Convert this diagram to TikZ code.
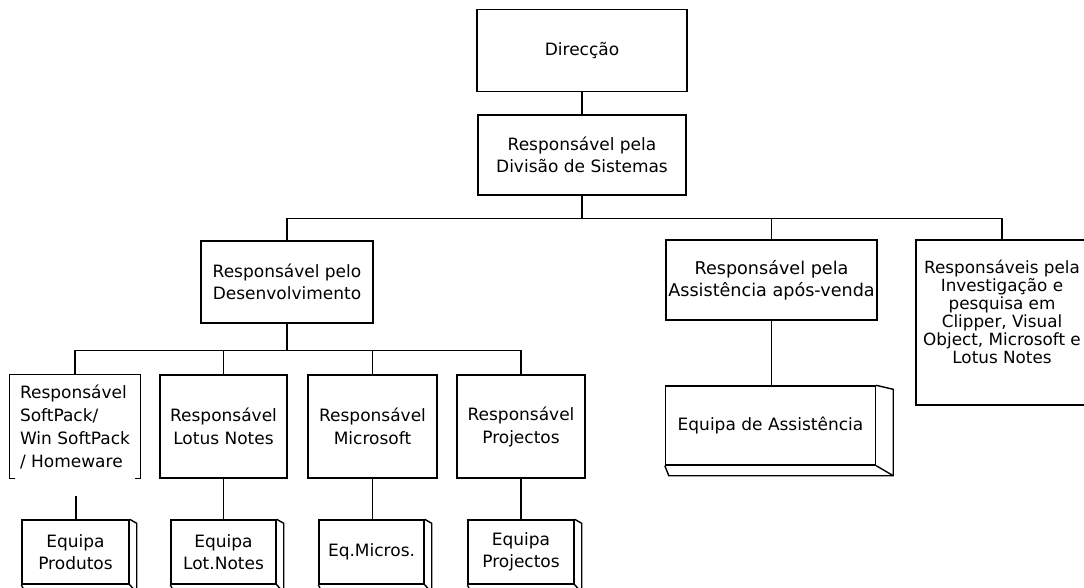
\documentclass[tikz,border=0pt]{standalone}
\usepackage{fontspec}
\setmainfont{DejaVu Sans}

\begin{document}
\begin{tikzpicture}[x=1pt, y=-1pt, line width=1.4pt,
  every node/.style={draw, align=center, inner sep=0pt, font=\fontsize{17}{22}\selectfont},
  chefe/.style={minimum width=#1, minimum height=82pt},
  resp/.style={minimum width=#1, minimum height=103pt, font=\fontsize{17}{23}\selectfont},
  equipa/.style={minimum width=#1, minimum height=64pt}]
  \useasboundingbox (0,0) rectangle (1084,587);
  \clip (0,0) rectangle (1084,587);

  % topo
  \node[chefe=210pt] (dir) at (582,50.5) {Direcção};
  \node[chefe=208pt, minimum height=80pt] (div) at (582,155) {Responsável pela\\Divisão de Sistemas};

  % segundo nivel
  \node[chefe=172pt] (desenv) at (287,282) {Responsável pelo\\Desenvolvimento};
  \node[chefe=211pt, minimum height=80pt, font=\fontsize{17.6}{22}\selectfont] (assist) at (771.5,280)
    {Responsável pela\\Assistência após-venda};
  \node[minimum width=172pt, minimum height=165pt, text depth=22pt, font=\fontsize{16.8}{18}\selectfont]
    (invest) at (1002,322.5)
    {Responsáveis pela\\Investigação e\\pesquisa em\\Clipper, Visual\\Object, Microsoft e\\Lotus Notes};

  % responsaveis
  \node[resp=130pt, draw=none, align=left] (soft) at (75,426.5) {Responsável\\SoftPack/\\Win SoftPack\\/ Homeware};
  \node[resp=127pt] (lotus) at (223.5,426.5) {Responsável\\Lotus Notes};
  \node[resp=129pt] (micro) at (372.5,426.5) {Responsável\\Microsoft};
  \node[resp=128pt] (proj) at (521,426.5) {Responsável\\Projectos};
  \draw ([xshift=6pt]soft.south west) -- (soft.south west) -- (soft.north west) -- (soft.north east)
    -- (soft.south east) -- ++(-6,0);
  \coordinate (softfoot) at (76,496);

  % equipas
  \node[equipa=107pt] (eqprod) at (75.5,552) {Equipa\\Produtos};
  \node[equipa=105pt] (eqlot) at (223.5,552) {Equipa\\Lot.Notes};
  \node[equipa=105pt] (eqmic) at (371.5,552) {Eq.Micros.};
  \node[equipa=106pt] (eqproj) at (521,552) {Equipa\\Projectos};
  \node[equipa=210pt, minimum height=79pt] (eqassist) at (770.5,425.5) {Equipa de Assistência};

  % caixas em relevo
  \foreach \n/\dx/\dy in {eqprod/7/8, eqlot/7/8, eqmic/7/8, eqproj/7/8, eqassist/17/10}
  {
    \draw (\n.north east) -- ++(\dx,4) -- ([shift={(\dx,\dy)}]\n.south east)
      -- ([shift={(4,\dy)}]\n.south west) -- (\n.south west);
    \draw (\n.south east) -- ++(\dx,\dy);
  }

  % ligacoes
  \draw (dir) -- (dir |- div.north);
  \foreach \n in {desenv,assist,invest}
    \draw (div.south) -- ++(0,23) -| (\n.north);
  \foreach \n in {soft,lotus,micro,proj}
    \draw (desenv.south) -- ++(0,27) -| (\n.north);
  \draw (softfoot) -- (softfoot |- eqprod.north);
  \foreach \a/\b in {lotus/eqlot, micro/eqmic, proj/eqproj, assist/eqassist}
    \draw (\a) -- (\a |- \b.north);
\end{tikzpicture}
\end{document}
